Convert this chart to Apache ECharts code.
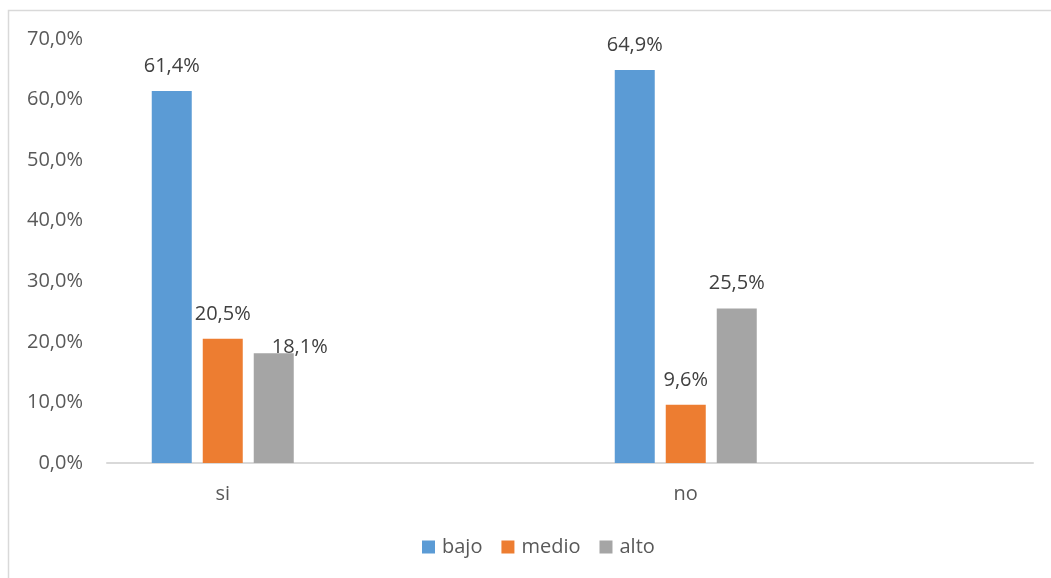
<!DOCTYPE html>
<html>
<head>
<meta charset="utf-8">
<script src="https://cdn.jsdelivr.net/npm/echarts@6/dist/echarts.min.js"></script>
<style>
html,body{margin:0;padding:0;background:#fff;}
#chart{width:1051px;height:578px;}
</style>
</head>
<body>
<div id="chart"></div>
<script>
const categories = ['si', 'no'];
const seriesNames = ['bajo', 'medio', 'alto'];
const bajo = [61.4, 64.9];
const medio = [20.5, 9.6];
const alto = [18.1, 25.5];
const yTicks = [0, 10, 20, 30, 40, 50, 60, 70];

const colors = ['#5B9BD5', '#ED7D31', '#A5A5A5'];
const FONT = '"Open Sans", sans-serif';

// each category is followed by an empty slot (matches the reference's layout)
const axisCats = [];
categories.forEach(c => { axisCats.push(c); axisCats.push(''); });
function spread(vals) {
  const out = [];
  vals.forEach(v => { out.push(v); out.push(null); });
  return out;
}
function fmt(v) { return v.toFixed(1).replace('.', ',') + '%'; }

const allValues = [bajo, medio, alto];
const series = seriesNames.map((name, si) => {
  const data = spread(allValues[si]).map((v, i) => {
    if (v === null) return null;
    // Excel nudged the overlapping "alto / si" label to the right
    if (si === 2 && i === 0) {
      return { value: v, label: { offset: [26, 19] } };
    }
    return v;
  });
  return {
    name: name,
    type: 'bar',
    data: data,
    barWidth: 40,
    barGap: '27.5%',
    itemStyle: { color: colors[si] },
    label: {
      show: true,
      position: 'top',
      distance: 15,
      formatter: p => fmt(p.value),
      color: '#404040',
      fontFamily: FONT,
      fontSize: 20
    }
  };
});

const chart = echarts.init(document.getElementById('chart'), null, { renderer: 'canvas' });
chart.setOption({
  animation: false,
  backgroundColor: '#fff',
  graphic: [{
    type: 'rect',
    shape: { x: 8.5, y: 10.5, width: 1200, height: 800 },
    style: { fill: 'none', stroke: '#d9d9d9', lineWidth: 1.5 },
    silent: true
  }],
  grid: { left: 107, right: 18, top: 39, bottom: 115 },
  legend: {
    data: seriesNames,
    left: 422,
    top: 537,
    padding: 0,
    itemWidth: 13,
    itemHeight: 13,
    itemGap: 19,
    icon: 'rect',
    textStyle: { color: '#595959', fontFamily: FONT, fontSize: 20, padding: [0, 0, 0, 2] }
  },
  xAxis: {
    type: 'category',
    data: axisCats,
    axisLine: { lineStyle: { color: '#d9d9d9', width: 2 } },
    axisTick: { show: false },
    axisLabel: { color: '#595959', fontFamily: FONT, fontSize: 20, margin: 21, interval: 0 },
    splitLine: { show: false }
  },
  yAxis: {
    type: 'value',
    min: yTicks[0],
    max: yTicks[yTicks.length - 1],
    interval: yTicks[1] - yTicks[0],
    axisLine: { show: false },
    axisTick: { show: false },
    splitLine: { show: false },
    axisLabel: {
      color: '#595959', fontFamily: FONT, fontSize: 20, margin: 24,
      formatter: v => fmt(v)
    }
  },
  series: series
});
</script>
</body>
</html>
